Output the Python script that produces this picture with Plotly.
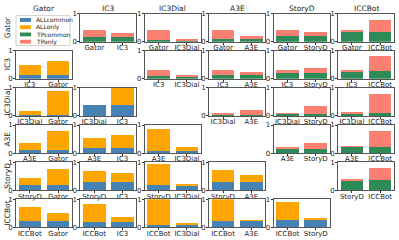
import plotly.graph_objects as go

tools = ["Gator", "IC3", "IC3Dial", "A3E", "StoryD", "ICCBot"]
legend_labels = ["ALLcommon", "ALLonly", "TPcommon", "TPonly"]
colors = {"ALLcommon": "#4682B4", "ALLonly": "#FFA500", "TPcommon": "#2E8B57", "TPonly": "#FA8072"}

# upper triangle (row < col): TP values -> (common, only of row tool, only of col tool)
tp_pairs = [(0, 1), (0, 2), (0, 3), (0, 4), (0, 5), (1, 2), (1, 3), (1, 4), (1, 5),
            (2, 3), (2, 4), (2, 5), (3, 4), (3, 5), (4, 5)]
tp_common = [0.17, 0.05, 0.10, 0.20, 0.35, 0.10, 0.15, 0.20, 0.28, 0.05, 0.08, 0.09, 0.15, 0.22, 0.35]
tp_only_a = [0.26, 0.37, 0.32, 0.22, 0.08, 0.22, 0.17, 0.12, 0.04, 0.06, 0.02, 0.02, 0.07, 0.01, 0.02]
tp_only_b = [0.13, 0.05, 0.12, 0.15, 0.43, 0.01, 0.08, 0.17, 0.52, 0.17, 0.29, 0.70, 0.22, 0.56, 0.43]

# lower triangle (row > col): ALL values
all_pairs = [(1, 0), (2, 0), (2, 1), (3, 0), (3, 1), (3, 2), (4, 0), (4, 1), (4, 2), (4, 3),
             (5, 0), (5, 1), (5, 2), (5, 3), (5, 4)]
all_common = [0.13, 0.05, 0.40, 0.10, 0.17, 0.07, 0.20, 0.30, 0.17, 0.28, 0.22, 0.18, 0.08, 0.22, 0.27]
all_only_a = [0.35, 0.12, 0.00, 0.27, 0.35, 0.78, 0.25, 0.38, 0.78, 0.45, 0.50, 0.64, 0.92, 0.78, 0.65]
all_only_b = [0.52, 0.85, 0.60, 0.67, 0.48, 0.15, 0.55, 0.32, 0.05, 0.27, 0.28, 0.20, 0.03, 0.03, 0.05]

W, H = 399, 240
FONT = "DejaVu Sans"


def col_left(c):
    return 16 + 64.4 * c


def row_top(r):
    return 10 + 38.4 * r


fig = go.Figure()
layout = {}
k = 0


def add_cell(r, c, common, only_a, only_b, ckey, okey):
    global k
    k += 1
    xa = "x" if k == 1 else f"x{k}"
    ya = "y" if k == 1 else f"y{k}"
    fig.add_trace(go.Bar(x=[0, 1], y=[common, common], width=0.8, marker_color=colors[ckey],
                         marker_line_width=0, xaxis=xa, yaxis=ya, showlegend=False, name=ckey))
    fig.add_trace(go.Bar(x=[0, 1], y=[only_a, only_b], width=0.8, marker_color=colors[okey],
                         marker_line_width=0, xaxis=xa, yaxis=ya, showlegend=False, name=okey))
    L = col_left(c)
    T = row_top(r)
    xkey = "xaxis" if k == 1 else f"xaxis{k}"
    ykey = "yaxis" if k == 1 else f"yaxis{k}"
    common_ax = dict(showline=True, mirror=True, linecolor="#555", linewidth=1, ticks="outside",
                     ticklen=2, tickwidth=0.8, tickcolor="#333", showgrid=False, zeroline=False,
                     tickfont=dict(size=7, family=FONT, color="#222"), fixedrange=True)
    layout[xkey] = dict(domain=[L / W, (L + 56) / W], range=[-0.49, 1.49], tickvals=[0, 1],
                        ticktext=[tools[r], tools[c]], anchor=ya, ticklabelstandoff=-3, **common_ax)
    layout[ykey] = dict(domain=[1 - (T + 29) / H, 1 - T / H], range=[0, 1], tickvals=[0, 1],
                        anchor=xa, ticklabelstandoff=-1, **common_ax)


for i, (r, c) in enumerate(tp_pairs):
    add_cell(r, c, tp_common[i], tp_only_a[i], tp_only_b[i], "TPcommon", "TPonly")
for i, (r, c) in enumerate(all_pairs):
    add_cell(r, c, all_common[i], all_only_a[i], all_only_b[i], "ALLcommon", "ALLonly")

annotations = []
for c, name in enumerate(tools):
    annotations.append(dict(x=(col_left(c) + 28) / W, y=1 - 5 / H, xref="paper", yref="paper",
                            text=name, showarrow=False, xanchor="center", yanchor="middle",
                            font=dict(size=7.5, family=FONT, color="#222")))
for r, name in enumerate(tools):
    annotations.append(dict(x=7.5 / W, y=1 - (row_top(r) + 14.5) / H, xref="paper", yref="paper",
                            text=name, showarrow=False, textangle=-90, xanchor="center",
                            yanchor="middle", font=dict(size=7.5, family=FONT, color="#222")))

# manual legend in the empty top-left cell
shapes = [dict(type="rect", xref="paper", yref="paper", x0=16 / W, x1=70 / W,
               y0=1 - 43 / H, y1=1 - 12 / H, line=dict(color="#d0d0d0", width=1),
               fillcolor="white")]
for i, lab in enumerate(legend_labels):
    cy = 16.5 + 7.5 * i
    shapes.append(dict(type="rect", xref="paper", yref="paper", x0=20 / W, x1=31 / W,
                       y0=1 - (cy + 2) / H, y1=1 - (cy - 2) / H, line=dict(width=0),
                       fillcolor=colors[lab]))
    annotations.append(dict(x=33.5 / W, y=1 - cy / H, xref="paper", yref="paper", text=lab,
                            showarrow=False, xanchor="left", yanchor="middle",
                            font=dict(size=6, family=FONT, color="#222")))

fig.update_layout(width=W, height=H, margin=dict(l=0, r=0, t=0, b=0), barmode="stack",
                  plot_bgcolor="white", paper_bgcolor="white", showlegend=False,
                  annotations=annotations, shapes=shapes, font=dict(family=FONT), **layout)

fig.write_html("out.html", config={"displayModeBar": False},
               post_script="document.body.style.margin='0';document.body.style.overflow='hidden';")
